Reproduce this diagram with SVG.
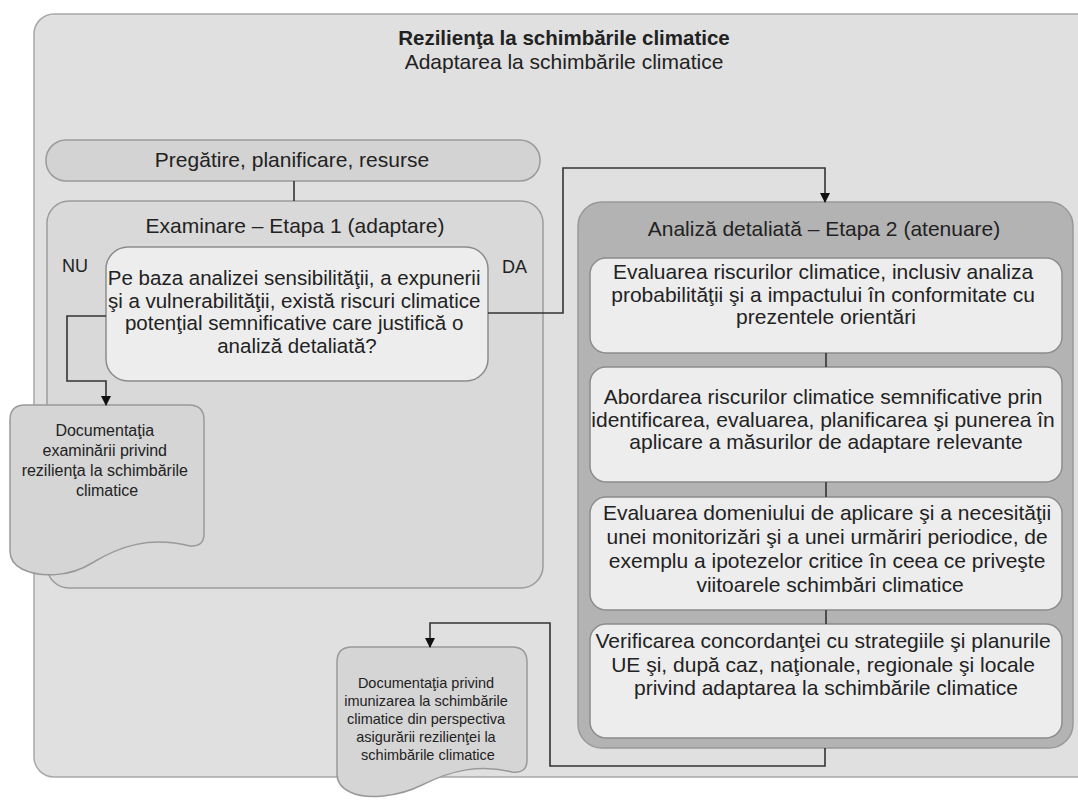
<svg xmlns="http://www.w3.org/2000/svg" width="1078" height="801" viewBox="0 0 1078 801">
  <defs>
    <marker id="arrow" markerWidth="10" markerHeight="10" refX="9" refY="5" orient="auto" markerUnits="userSpaceOnUse">
      <path d="M0,0 L10,5 L0,10 Z" fill="#111"/>
    </marker>
    <style>
      text { font-family: "Liberation Sans", Arial, sans-serif; fill: #222; }
      .t21 { font-size: 21px; text-anchor: middle; }
      .q { font-size: 20.5px; text-anchor: middle; }
      .title { font-size: 20.5px; font-weight: bold; text-anchor: middle; }
      .lbl { font-size: 18px; }
      .doc1 { font-size: 16px; text-anchor: middle; }
      .doc2 { font-size: 14.5px; text-anchor: middle; }
      .outer { fill: #e0e0e0; stroke: #a8a8a8; stroke-width: 1.5; }
      .stage1 { fill: #d9d9d9; stroke: #9c9c9c; stroke-width: 1.5; }
      .pill { fill: #d3d3d3; stroke: #9a9a9a; stroke-width: 1.5; }
      .light { fill: #ededed; stroke: #8c8c8c; stroke-width: 1.5; }
      .stage2 { fill: #b3b3b3; stroke: #999999; stroke-width: 1.5; }
      .doc { fill: #d5d5d5; stroke: #999999; stroke-width: 1.5; }
      .conn { fill: none; stroke: #333; stroke-width: 1.6; }
    </style>
  </defs>

  <!-- outer frame -->
  <g id="frame">
    <rect class="outer" x="34" y="14" width="1070" height="763" rx="20"/>
    <text class="title" x="564" y="45">Rezilienţa la schimbările climatice</text>
    <text class="t21" x="564" y="69">Adaptarea la schimbările climatice</text>
  </g>

  <!-- preparation pill -->
  <g id="prep">
    <rect class="pill" x="46" y="140" width="494" height="41" rx="20"/>
    <text class="t21" x="292" y="167">Pregătire, planificare, resurse</text>
  </g>

  <!-- stage 1 container -->
  <g id="stage1">
    <rect class="stage1" x="47" y="201" width="496" height="387" rx="22"/>
    <text class="t21" x="295" y="233">Examinare – Etapa 1 (adaptare)</text>
    <text class="lbl" x="62" y="272">NU</text>
    <text class="lbl" x="502" y="273">DA</text>
  </g>

  <!-- decision -->
  <g id="decision">
    <rect class="light" x="106" y="247" width="382" height="134" rx="22"/>
    <text class="q" x="297" y="285">
      <tspan x="297">Pe baza analizei sensibilităţii, a expunerii</tspan>
      <tspan x="297" dy="22.5">şi a vulnerabilităţii, există riscuri climatice</tspan>
      <tspan x="297" dy="22.5">potenţial semnificative care justifică o</tspan>
      <tspan x="297" dy="22.5">analiză detaliată?</tspan>
    </text>
  </g>

  <!-- screening documentation -->
  <g id="doc-screening">
    <path class="doc" d="M10,420 Q10,405 25,405 H189 Q204,405 204,420 V534 Q204,547 190,546 C150,536 120,546 92,563 C70,577 40,578 22,569 Q10,563 10,551 Z"/>
    <text class="doc1" x="107" y="436">
      <tspan x="107">Documentaţia</tspan>
      <tspan x="107" dy="20">examinării privind</tspan>
      <tspan x="107" dy="20">rezilienţa la schimbările</tspan>
      <tspan x="107" dy="20">climatice</tspan>
    </text>
  </g>

  <!-- stage 2 container -->
  <g id="stage2">
    <rect class="stage2" x="578" y="202" width="495" height="546" rx="24"/>
    <text class="t21" x="824" y="236">Analiză detaliată – Etapa 2 (atenuare)</text>
  </g>

  <g id="step1">
    <rect class="light" x="590" y="258" width="472" height="95" rx="16"/>
    <text class="t21" x="826" y="279">
      <tspan x="826">Evaluarea riscurilor climatice, inclusiv analiza</tspan>
      <tspan x="826" dy="22.5">probabilităţii şi a impactului în conformitate cu</tspan>
      <tspan x="826" dy="22.5">prezentele orientări</tspan>
    </text>
  </g>

  <g id="step2">
    <rect class="light" x="590" y="367" width="472" height="115" rx="16"/>
    <text class="t21" x="826" y="404">
      <tspan x="826">Abordarea riscurilor climatice semnificative prin</tspan>
      <tspan x="826" dy="22.5">identificarea, evaluarea, planificarea şi punerea în</tspan>
      <tspan x="826" dy="22.5">aplicare a măsurilor de adaptare relevante</tspan>
    </text>
  </g>

  <g id="step3">
    <rect class="light" x="590" y="497" width="472" height="113" rx="16"/>
    <text class="t21" x="830" y="520">
      <tspan x="830">Evaluarea domeniului de aplicare şi a necesităţii</tspan>
      <tspan x="830" dy="24">unei monitorizări şi a unei urmăriri periodice, de</tspan>
      <tspan x="830" dy="24">exemplu a ipotezelor critice în ceea ce priveşte</tspan>
      <tspan x="830" dy="24">viitoarele schimbări climatice</tspan>
    </text>
  </g>

  <g id="step4">
    <rect class="light" x="590" y="624" width="472" height="114" rx="16"/>
    <text class="t21" x="826" y="648">
      <tspan x="826">Verificarea concordanţei cu strategiile şi planurile</tspan>
      <tspan x="826" dy="23.5">UE şi, după caz, naţionale, regionale şi locale</tspan>
      <tspan x="826" dy="23.5">privind adaptarea la schimbările climatice</tspan>
    </text>
  </g>

  <!-- proofing documentation -->
  <g id="doc-proofing">
    <path class="doc" d="M337,662 Q337,647 352,647 H512 Q527,647 527,662 V760 Q527,774 512,772 C480,764 452,770 422,785 C398,797 366,800 350,792 Q337,786 337,774 Z"/>
    <text class="doc2" x="428" y="688">
      <tspan x="428">Documentaţia privind</tspan>
      <tspan x="428" dy="18">imunizarea la schimbările</tspan>
      <tspan x="428" dy="18">climatice din perspectiva</tspan>
      <tspan x="428" dy="18">asigurării rezilienţei la</tspan>
      <tspan x="428" dy="18">schimbările climatice</tspan>
    </text>
  </g>

  <!-- connectors -->
  <g id="connectors">
    <path class="conn" d="M294,181 V201"/>
    <path class="conn" d="M488,313 H563 V168 H825 V202" marker-end="url(#arrow)"/>
    <path class="conn" d="M106,316 H67 V381 H106 V405" marker-end="url(#arrow)"/>
    <path class="conn" d="M826,353 V367"/>
    <path class="conn" d="M826,482 V497"/>
    <path class="conn" d="M826,610 V624"/>
    <path class="conn" d="M825,748 V766 H550 V623 H430 V647" marker-end="url(#arrow)"/>
  </g>
</svg>
